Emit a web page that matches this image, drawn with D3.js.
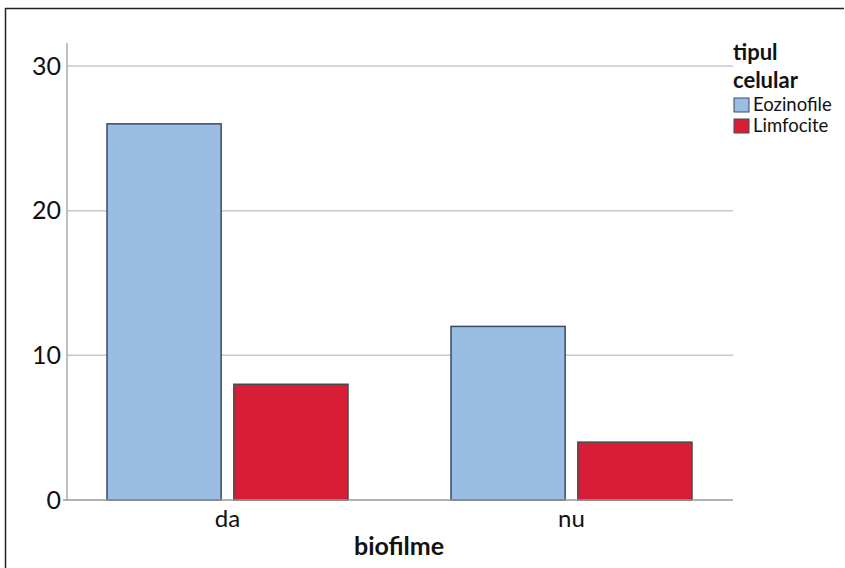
<!DOCTYPE html>
<html><head><meta charset="utf-8">
<script src="https://cdn.jsdelivr.net/npm/d3@7"></script>
<style>body{margin:0;background:#fff}svg{display:block}</style>
</head><body>
<svg id="c" width="845" height="568"></svg>
<script>
const categories = ["da", "nu"];
const seriesNames = ["Eozinofile", "Limfocite"];
const eozinofile = [26, 12];
const limfocite = [8, 4];
const yTicks = [0, 10, 20, 30];
const colors = ["#99bde3", "#d81e37"];
const strokes = ["#3b4a63", "#4a4a4a"];

const svg = d3.select("#c");
const font = "Lato, 'Open Sans', sans-serif";

// frame
svg.append("path").attr("d","M5.5,568 V8.5 H844").attr("fill","none").attr("stroke","#222").attr("stroke-width",1.5);

const x0 = d3.scaleBand().domain(categories).range([55.5, 743.5]).paddingInner(0).paddingOuter(0);
const x1 = d3.scaleBand().domain(seriesNames).range([0, 241]).paddingInner(0.1);
const y = d3.scaleLinear().domain([0, 30]).range([500, 66]);

// gridlines
svg.append("g").selectAll("line").data(yTicks.filter(d=>d>0)).join("line")
  .attr("x1",67).attr("x2",733).attr("y1",d=>y(d)).attr("y2",d=>y(d))
  .attr("stroke","#c8c8c8").attr("stroke-width",1.5);

// y axis line
svg.append("line").attr("x1",67).attr("x2",67).attr("y1",43).attr("y2",500).attr("stroke","#aaa").attr("stroke-width",1.5);

// y tick labels
const yAxis = d3.axisLeft(y).tickValues(yTicks).tickSize(0).tickPadding(0);
const gy = svg.append("g").attr("transform","translate(61,0)").call(yAxis);
gy.select(".domain").remove();
gy.selectAll("text").attr("font-family",font).attr("font-size",25).attr("fill","#111");

// bars
const data = categories.map((c,i)=>({cat:c, vals:[eozinofile[i], limfocite[i]]}));
const g = svg.append("g");
data.forEach(d=>{
  const gx = x0(d.cat) + (x0.bandwidth()-241)/2;
  g.selectAll(null).data(d.vals.map((v,j)=>({v, s:seriesNames[j], j}))).join("rect")
    .attr("x", e=>gx + x1(e.s))
    .attr("y", e=>y(e.v))
    .attr("width", x1.bandwidth())
    .attr("height", e=>y(0)-y(e.v))
    .attr("fill", e=>colors[e.j])
    .attr("stroke", e=>strokes[e.j])
    .attr("stroke-width", 1.5);
});

// baseline
svg.append("line").attr("x1",63).attr("x2",733).attr("y1",500).attr("y2",500).attr("stroke","#999").attr("stroke-width",1.5);

// x axis labels
const xAxis = d3.axisBottom(x0).tickSize(0).tickPadding(0);
const gx = svg.append("g").attr("transform","translate(0,527)").call(xAxis);
gx.select(".domain").remove();
gx.selectAll("text").attr("font-family",font).attr("font-size",24).attr("fill","#111").attr("dy","0");

svg.append("text").attr("x",399).attr("y",555).attr("text-anchor","middle")
  .attr("font-family",font).attr("font-size",25).attr("font-weight","bold").attr("fill","#111").text("biofilme");

// legend
const lg = svg.append("g");
lg.append("text").attr("x",733).attr("y",60).attr("font-family",font).attr("font-size",22).attr("font-weight","bold").attr("fill","#111").text("tipul");
lg.append("text").attr("x",733).attr("y",88).attr("font-family",font).attr("font-size",22).attr("font-weight","bold").attr("fill","#111").text("celular");
seriesNames.forEach((s,i)=>{
  lg.append("rect").attr("x",734).attr("y",98+i*21).attr("width",15).attr("height",14)
    .attr("fill",colors[i]).attr("stroke",strokes[i]).attr("stroke-width",1);
  lg.append("text").attr("x",753).attr("y",111+i*21).attr("font-family",font).attr("font-size",18.5).attr("fill","#111").text(s);
});
</script>
</body></html>
